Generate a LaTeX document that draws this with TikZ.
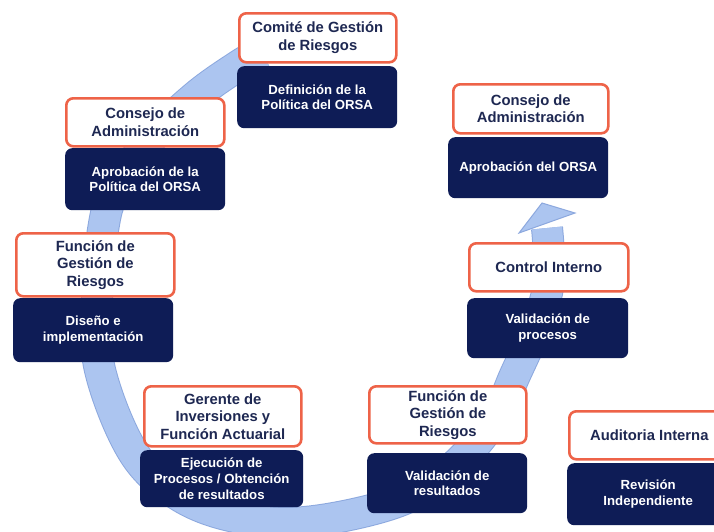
\documentclass[tikz,border=0pt]{standalone}
\usepackage{fontspec}
\setmainfont{Liberation Sans}
\definecolor{orng}{RGB}{238,99,72}
\definecolor{navy}{RGB}{14,28,86}
\definecolor{navytxt}{RGB}{30,40,82}
\definecolor{bandfill}{RGB}{172,197,240}
\definecolor{bandedge}{RGB}{140,168,222}
\tikzset{
  hdr/.style={draw=orng, line width=2.6pt, fill=white, rounded corners=7pt, text=navytxt,
    font=\bfseries\fontsize{14.8}{17.5}\selectfont, align=center, inner sep=1pt},
  dk/.style={fill=navy, rounded corners=7pt, text=white,
    font=\bfseries\fontsize{13.2}{15.8}\selectfont, align=center, inner sep=1pt},
}
\newcommand\dobox[7]{\node[#1, anchor=north west, minimum width=#4pt, minimum height=#5pt] (#6) at (#2,#3) {#7};}
\begin{document}
\begin{tikzpicture}[x=1pt,y=-1pt]
\useasboundingbox (0,0) rectangle (714,531);
\clip (0,0) rectangle (714,531);
\fill[white] (0,0) rectangle (714,531);
% band
\def\bandpath{plot[smooth, tension=0.6] coordinates {(262,52) (238,66) (196,96) (150,140) (115,190) (103,230) (97,300) (100,370) (133,452) (178,495) (235,517) (305,522) (397,502) (452,468) (494,420) (515,375) (537,325) (549,280) (547,228)}}
\draw[line width=32pt, bandedge] \bandpath;
\coordinate (tip) at (542,203);
\coordinate (bl) at (519,233);
\coordinate (br) at (575,213);
\filldraw[fill=bandfill, draw=bandedge, line width=1pt, line join=miter] (bl) -- (tip) -- (br) -- cycle;
\draw[line width=30pt, bandfill] \bandpath;
% boxes
\dobox{hdr}{238}{12}{157}{49}{h1}{Comité de Gestión\\de Riesgos}
\dobox{dk}{237}{66}{160}{62}{d1}{Definición de la\\Política del ORSA}
\dobox{hdr}{65}{97}{158}{48}{h2}{Consejo de\\Administración}
\dobox{dk}{65}{148}{160}{62}{d2}{Aprobación de la\\Política del ORSA}
\dobox{hdr}{15}{232}{158}{63}{h3}{Función de\\Gestión de\\Riesgos}
\dobox{dk}{13}{298}{160}{64}{d3}{Diseño e\\implementación}
\dobox{hdr}{143}{385}{157}{60}{h4}{Gerente de\\Inversiones y\\Función Actuarial}
\dobox{dk}{140}{450}{163}{57}{d4}{Ejecución de\\Procesos / Obtención\\de resultados}
\dobox{hdr}{368}{385}{157}{57}{h5}{Función de\\Gestión de\\Riesgos}
\dobox{dk}{367}{453}{160}{60}{d5}{Validación de\\resultados}
\dobox{hdr}{568}{410}{160}{48}{h6}{Auditoria Interna}
\dobox{dk}{567}{463}{162}{62}{d6}{Revisión\\Independiente}
\dobox{hdr}{468}{242}{159}{48}{h7}{Control Interno}
\dobox{dk}{467}{298}{161}{60}{d7}{Validación de\\procesos}
\dobox{hdr}{452}{83}{155}{49}{h8}{Consejo de\\Administración}
\dobox{dk}{448}{137}{160}{61}{d8}{Aprobación del ORSA}
\end{tikzpicture}
\end{document}
